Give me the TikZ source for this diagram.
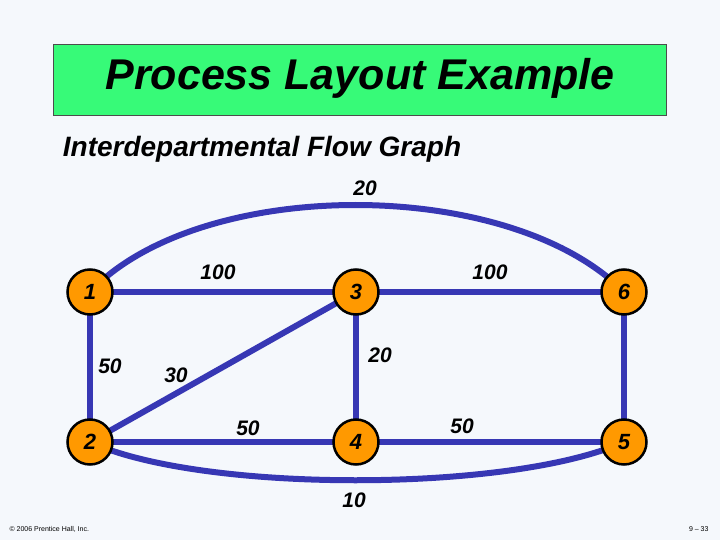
\documentclass[tikz,border=0pt]{standalone}
\usepackage{fontspec}
\setmainfont{Liberation Sans}
\begin{document}
\begin{tikzpicture}[x=1pt,y=-1pt,
  dept/.style={circle,draw=black,line width=2.5pt,fill=orange!80!yellow,minimum size=45pt,inner sep=0pt,font=\fontsize{22}{24}\selectfont\bfseries\itshape},
  lab/.style={font=\fontsize{21}{24}\selectfont\bfseries\itshape}]
\definecolor{bg}{RGB}{245,248,252}
\definecolor{edgec}{RGB}{55,55,180}
\definecolor{titleg}{RGB}{55,250,120}
\tikzset{edge/.style={draw=edgec,line width=6pt}}
\fill[bg] (0,0) rectangle (720,540);
\useasboundingbox (0,0) rectangle (720,540);
\node[draw=black!70,fill=titleg,minimum width=613pt,minimum height=71pt,anchor=north west,inner sep=0pt] (tb) at (53,44) {};
\node[font=\fontsize{43}{46}\selectfont\bfseries\itshape] (title) at (360,78) {Process Layout Example};
\node[font=\fontsize{28}{30}\selectfont\bfseries\itshape] (sub) at (262,149) {Interdepartmental Flow Graph};
\coordinate (p1) at (90,292); \coordinate (p2) at (90,442);
\coordinate (p3) at (356,292); \coordinate (p4) at (356,442);
\coordinate (p6) at (624,292); \coordinate (p5) at (624,442);
\draw[edge] (p1) .. controls (200,176) and (510,176) .. (p6);
\draw[edge] (p2) .. controls (200,493) and (510,493) .. (p5);
\draw[edge] (p1)--(p3)--(p6)--(p5)--(p4)--(p2)--(p1);
\draw[edge] (p3)--(p4); \draw[edge] (p2)--(p3);
\node[dept] (n1) at (p1) {1};
\node[dept] (n2) at (p2) {2};
\node[dept] (n3) at (p3) {3};
\node[dept] (n4) at (p4) {4};
\node[dept] (n5) at (p5) {5};
\node[dept] (n6) at (p6) {6};
\node[lab] (l20a) at (365,188) {20};
\node[lab] (l100a) at (218,272) {100};
\node[lab] (l100b) at (490,272) {100};
\node[lab] (l50a) at (110,366) {50};
\node[lab] (l30) at (176,375) {30};
\node[lab] (l20b) at (380,355) {20};
\node[lab] (l50b) at (248,428) {50};
\node[lab] (l50c) at (462,426) {50};
\node[lab] (l10) at (354,500) {10};
\node[font=\fontsize{7}{8}\selectfont,anchor=west] (cp) at (6,529) {© 2006 Prentice Hall, Inc.};
\node[font=\fontsize{7}{8}\selectfont,anchor=east] (pg) at (712,529) {9 – 33};
\end{tikzpicture}
\end{document}
